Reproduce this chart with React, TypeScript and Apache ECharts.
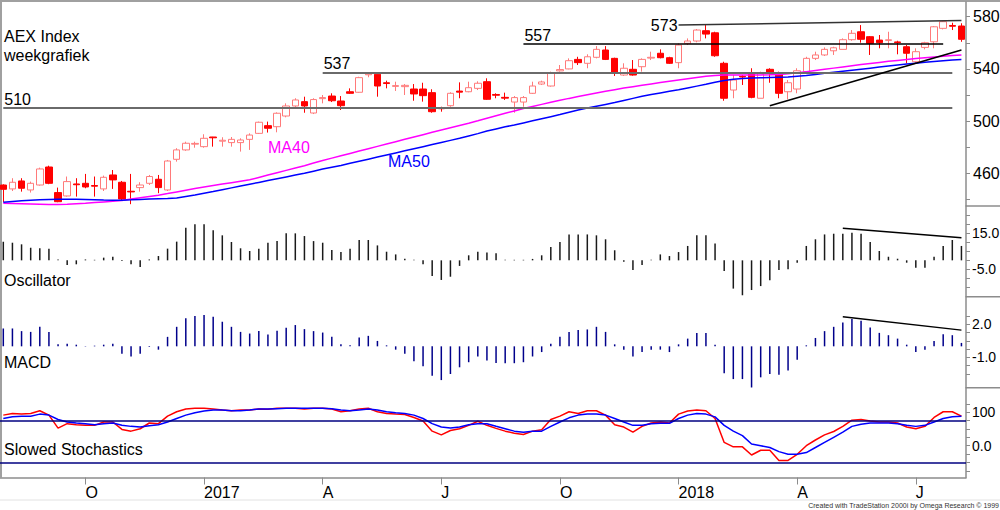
import React, { useEffect, useRef } from "react";
import * as echarts from "echarts";

// ---- weekly AEX candles (Aug 2016 .. Aug 2018) ----
const opens = [
  451.0, 448.0, 454.1, 447.2, 451.0, 464.8, 445.2, 442.6, 451.8, 452.3,
  450.6, 448.0, 458.7, 453.1, 446.2, 449.0, 452.3, 455.4, 447.2, 470.7,
  477.9, 482.3, 480.4, 487.8, 484.6, 483.5, 483.5, 486.0, 490.6, 496.5,
  495.7, 503.9, 511.6, 514.9, 506.2, 517.2, 519.2, 515.4, 522.5, 522.1,
  535.5, 535.9, 529.4, 526.6, 526.4, 524.6, 524.6, 521.8, 510.2, 511.8,
  523.0, 522.5, 525.1, 530.2, 520.4, 518.2, 514.6, 514.6, 521.3, 528.4,
  526.9, 538.5, 540.0, 547.3, 544.3, 548.9, 554.5, 548.1, 535.3, 539.7,
  541.7, 548.3, 552.0, 548.6, 544.8, 559.6, 561.4, 569.3, 567.7, 544.3,
  523.8, 534.3, 537.1, 517.5, 539.7, 537.1, 522.5, 524.6, 537.9, 548.1,
  550.7, 553.9, 555.0, 562.4, 568.5, 564.7, 562.1, 561.9, 560.7, 557.0,
  545.5, 556.5, 560.8, 571.1, 573.3, 572.9,
];
const closes = [
  447.7, 453.1, 448.5, 452.3, 463.3, 452.3, 438.2, 453.6, 451.2, 449.5,
  450.1, 456.9, 454.9, 440.3, 445.7, 451.0, 457.5, 449.0, 469.4, 477.9,
  483.0, 482.9, 486.8, 487.2, 485.3, 486.0, 485.5, 489.3, 499.1, 494.5,
  506.0, 511.6, 516.2, 511.6, 516.5, 518.0, 515.6, 511.8, 521.3, 533.3,
  536.2, 526.9, 528.8, 527.2, 527.4, 520.8, 519.5, 507.2, 509.5, 521.3,
  522.2, 525.6, 529.0, 516.7, 519.8, 517.6, 518.0, 518.0, 526.9, 530.0,
  537.1, 539.5, 546.3, 544.8, 549.3, 555.0, 547.3, 536.6, 540.5, 535.3,
  547.3, 548.9, 548.6, 544.3, 558.3, 561.4, 569.8, 566.7, 550.1, 517.5,
  531.5, 533.8, 518.2, 537.1, 537.1, 521.3, 529.4, 538.6, 548.1, 550.7,
  555.0, 556.2, 562.4, 567.3, 562.7, 559.6, 560.1, 562.3, 560.2, 552.0,
  553.2, 560.1, 572.3, 576.2, 572.7, 562.7,
];
const lows = [
  438.0, 446.4, 445.9, 445.2, 450.5, 451.6, 437.8, 442.1, 442.1, 448.5,
  442.1, 446.4, 448.0, 438.8, 436.3, 445.9, 451.0, 444.7, 446.4, 468.9,
  477.2, 479.6, 479.6, 480.4, 480.4, 480.4, 476.6, 477.9, 490.1, 491.2,
  491.4, 502.9, 510.6, 506.4, 505.4, 513.6, 514.6, 508.5, 520.8, 521.8,
  533.6, 518.7, 525.1, 523.1, 520.0, 515.6, 514.9, 506.4, 507.2, 511.0,
  517.5, 522.1, 523.8, 516.2, 517.5, 516.2, 506.4, 511.0, 520.8, 527.7,
  526.4, 537.9, 539.7, 543.0, 540.5, 548.1, 546.8, 534.6, 534.6, 534.8,
  537.9, 546.8, 548.1, 543.8, 540.5, 558.3, 560.4, 563.4, 549.3, 515.6,
  517.5, 527.7, 517.5, 517.5, 529.4, 517.5, 516.7, 521.3, 537.1, 546.8,
  549.9, 550.7, 555.0, 561.6, 560.1, 550.7, 555.8, 555.8, 551.2, 544.3,
  544.3, 555.0, 555.8, 570.3, 569.8, 560.8,
];
const highs = [
  451.5, 456.2, 456.2, 453.6, 464.3, 465.8, 449.0, 457.5, 456.2, 459.5,
  457.5, 458.2, 462.5, 454.1, 459.5, 453.1, 458.7, 458.7, 470.2, 479.2,
  484.2, 484.2, 489.9, 487.9, 487.6, 487.8, 486.8, 490.6, 499.6, 499.6,
  506.7, 513.6, 517.5, 518.7, 517.5, 520.0, 521.3, 519.2, 525.1, 534.0,
  537.4, 536.6, 531.0, 530.2, 528.4, 528.4, 529.4, 524.4, 511.0, 522.1,
  529.7, 530.2, 530.5, 532.8, 521.3, 521.8, 519.2, 519.2, 530.2, 531.0,
  537.9, 543.0, 548.1, 549.3, 551.2, 557.5, 557.5, 548.6, 544.3, 546.8,
  548.1, 553.2, 555.0, 549.3, 559.6, 563.4, 570.6, 573.6, 568.5, 545.5,
  535.3, 535.3, 540.5, 537.9, 540.5, 537.9, 531.5, 540.5, 549.3, 553.2,
  556.5, 557.0, 563.4, 569.8, 573.6, 565.2, 566.0, 568.5, 561.6, 558.3,
  555.8, 560.8, 572.9, 576.9, 575.4, 575.0,
];

// ---- moving averages ----
const ma40 = [
  437.0, 436.8, 436.6, 436.4, 436.2, 436.0, 436.0, 436.2, 436.6, 437.0,
  437.5, 438.0, 438.5, 439.2, 440.2, 441.2, 442.2, 443.2, 444.4, 445.7,
  447.0, 448.3, 449.5, 450.6, 451.7, 452.8, 453.9, 455.0, 456.8, 458.6,
  460.4, 462.2, 464.0, 465.8, 467.8, 469.8, 471.6, 473.4, 475.2, 477.0,
  478.8, 480.6, 482.4, 484.2, 486.0, 487.8, 489.6, 491.4, 493.2, 494.9,
  496.6, 498.3, 500.2, 502.2, 504.1, 506.0, 507.8, 509.6, 511.2, 512.8,
  514.4, 515.9, 517.4, 518.8, 520.2, 521.6, 522.9, 524.1, 525.3, 526.4,
  527.5, 528.5, 529.5, 530.5, 531.5, 532.5, 533.4, 534.3, 535.0, 535.3,
  535.4, 535.4, 535.4, 535.4, 535.5, 535.8, 536.3, 537.0, 537.9, 538.8,
  539.7, 540.6, 541.5, 542.4, 543.3, 544.2, 545.0, 545.8, 546.5, 547.2,
  547.9, 548.5, 549.1, 549.7, 550.2, 550.7,
];
const ma50 = [
  437.8, 438.4, 439.0, 439.4, 439.7, 439.9, 440.0, 440.0, 440.0, 439.9,
  439.7, 439.5, 439.4, 439.4, 439.6, 439.9, 440.2, 440.4, 440.6, 441.0,
  442.2, 443.4, 444.7, 446.0, 447.4, 448.8, 450.2, 451.6, 453.0, 454.4,
  455.8, 457.2, 458.6, 460.0, 461.6, 463.2, 464.6, 466.0, 467.6, 469.2,
  470.8, 472.4, 474.0, 475.6, 477.2, 478.8, 480.4, 482.0, 483.6, 485.2,
  486.8, 488.6, 490.4, 492.4, 494.0, 495.6, 497.0, 498.6, 500.2, 501.8,
  503.4, 505.0, 506.8, 508.5, 510.0, 511.4, 512.8, 514.2, 515.8, 517.4,
  519.0, 520.4, 521.6, 522.8, 524.0, 525.4, 526.8, 528.2, 529.8, 531.2,
  532.0, 532.6, 533.0, 533.2, 533.4, 533.6, 533.8, 534.4, 535.0, 535.8,
  536.6, 537.4, 538.2, 539.0, 539.8, 540.6, 541.4, 542.2, 543.0, 543.7,
  544.4, 545.1, 545.7, 546.3, 546.8, 547.3,
];

// ---- indicators ----
const oscillator = [
  10.4, 9.8, 8.9, 7.0, 6.7, 6.5, 0.5, -2.6, -2.2, 0.5,
  0.3, 1.5, 2.0, -0.3, -2.2, -3.7, 0.5, 2.4, 6.5, 10.4,
  18.1, 20.0, 20.0, 16.7, 13.9, 10.2, 6.7, 5.2, 6.5, 9.8,
  10.7, 15.0, 15.0, 13.5, 10.7, 9.8, 5.7, 4.6, 6.5, 11.3,
  11.3, 8.3, 4.8, 3.3, 0.9, 0.3, -2.2, -8.7, -10.9, -9.1,
  -3.1, 2.8, 4.8, 4.3, 4.0, 0.3, 0.3, 0.3, 0.8, 2.8,
  7.4, 10.2, 14.4, 14.4, 14.4, 13.9, 11.7, 5.6, -0.8, -5.4,
  -2.6, 0.3, 3.3, 2.4, 4.6, 8.0, 13.9, 13.9, 9.4, -5.9,
  -15.7, -19.4, -16.5, -14.3, -11.1, -5.4, -5.0, -1.3, 8.0, 11.7,
  14.4, 14.8, 14.8, 15.4, 14.8, 10.2, 5.2, 2.0, 0.9, -1.3,
  -4.1, -4.1, 2.0, 8.0, 11.3, 8.0,
];
const macd = [
  1.62, 1.62, 1.38, 1.31, 1.77, 1.31, 0.18, 0.24, 0.15, 0.03,
  0.06, 0.15, 0.24, -0.67, -0.92, -0.67, -0.06, -0.3, 0.86, 1.77,
  2.54, 2.75, 2.84, 2.69, 2.23, 1.77, 1.31, 1.16, 1.38, 1.07,
  1.41, 1.68, 1.93, 1.56, 1.38, 1.25, 0.86, 0.18, 0.09, 0.8,
  0.95, 0.49, 0.09, -0.3, -0.67, -1.35, -1.8, -2.66, -3.06, -2.51,
  -1.9, -1.44, -0.92, -1.28, -1.5, -1.53, -1.53, -1.44, -0.92, -0.52,
  0.24, 0.86, 1.31, 1.47, 1.53, 1.77, 1.31, 0.18, -0.3, -0.92,
  -0.52, -0.3, -0.3, -0.52, 0.18, 0.7, 1.22, 1.22, 0.15, -2.45,
  -2.97, -2.97, -3.73, -2.81, -2.51, -2.57, -2.2, -1.22, 0.09, 0.76,
  1.38, 1.77, 2.17, 2.48, 2.32, 1.71, 1.22, 1.01, 0.7, 0.15,
  -0.52, -0.3, 0.49, 1.1, 1.01, 0.31,
];
const stochK = [
  91.6, 96.7, 95.0, 96.7, 104.8, 91.6, 52.7, 66.0, 63.0, 61.0,
  61.0, 71.0, 71.0, 48.7, 43.6, 50.8, 68.0, 66.0, 88.5, 101.7,
  110.0, 112.0, 112.0, 110.0, 107.0, 104.8, 107.0, 107.0, 110.0, 109.0,
  112.0, 112.0, 112.0, 110.0, 112.0, 112.0, 110.0, 101.7, 104.8, 110.0,
  112.0, 101.7, 96.7, 94.6, 93.6, 84.5, 74.2, 43.6, 32.5, 45.6,
  50.8, 61.0, 73.2, 61.0, 52.0, 43.6, 37.5, 33.4, 43.6, 47.7,
  78.4, 88.5, 101.7, 96.7, 104.8, 104.8, 91.6, 63.0, 55.8, 40.4,
  57.9, 68.0, 71.0, 68.0, 94.6, 103.8, 107.0, 104.8, 81.5, 9.9,
  -3.4, -3.4, -27.9, -13.5, -13.5, -44.1, -44.1, -25.7, 0.0, 17.1,
  32.5, 42.6, 57.9, 76.3, 78.4, 74.2, 71.0, 71.0, 68.0, 56.0,
  50.8, 58.0, 84.5, 101.7, 101.7, 88.5,
];
const stochD = [
  81.5, 86.4, 88.0, 88.5, 94.6, 91.6, 78.4, 71.0, 68.0, 66.0,
  63.0, 66.0, 68.0, 61.0, 57.9, 55.8, 60.0, 63.0, 71.0, 81.5,
  91.6, 98.6, 103.8, 107.0, 107.0, 104.8, 104.8, 107.0, 110.0, 110.0,
  111.0, 112.0, 112.0, 112.0, 112.0, 112.0, 111.0, 107.0, 104.8, 107.0,
  110.0, 107.0, 101.7, 98.6, 96.7, 91.6, 81.5, 66.0, 55.8, 52.7,
  55.8, 63.0, 66.0, 66.0, 58.0, 50.8, 43.6, 40.4, 43.6, 43.6,
  57.9, 71.0, 83.5, 91.6, 94.6, 94.6, 91.6, 81.5, 71.0, 61.0,
  61.0, 66.0, 67.0, 67.0, 81.5, 91.6, 96.7, 94.6, 86.4, 61.0,
  43.6, 30.3, 4.9, 0.0, -5.4, -17.7, -25.7, -25.7, -20.6, -5.4,
  9.9, 25.2, 40.4, 57.9, 64.0, 68.0, 68.0, 68.0, 66.0, 61.0,
  57.9, 61.0, 71.0, 81.5, 86.4, 88.5,
];

// ---- annotations (index, value) ----
const priceLevels = [
  { label: "510", value: 510, from: 0, to: 104 },
  { label: "537", value: 537, from: 35, to: 104 },
  { label: "557", value: 559, from: 57, to: 103 },
];
const resistanceTrend = { label: "573", from: [74, 573.6], to: [105, 577.1] };
const supportTrend = [[84, 511.8], [105, 554.5]];
const oscTrend = [[92, 17.8], [105, 12.6]];
const macdTrend = [[92, 2.69], [105, 1.47]];
const stochLevels = [75, -50];

// ---- axis ticks / labels ----
const priceTicks = [440, 460, 480, 500, 520, 540, 560, 580];
const priceLabels = [460, 500, 540, 580];
const oscTicks = [-15, -10, -5, 0, 5, 10, 15, 20, 25];
const oscLabels = [15, -5];
const macdTicks = [-2.5, -1.75, -1, -0.25, 0.5, 1.25, 2, 2.75];
const macdLabels = [2, -1];
const stochTicks = [-75, -50, -25, 0, 25, 50, 75, 100, 125];
const stochLabels = [100, 0];
const quarterLetters: Record<number, string> = { 3: "A", 6: "J", 9: "O" };

const WEEK_MS = 7 * 24 * 3600 * 1000;
const firstWeek = Date.UTC(2016, 7, 1);
const weeks = opens.map((_, i) =>
  new Date(firstWeek + i * WEEK_MS).toISOString().slice(0, 10)
);
const monthOf = (s: string) => Number(s.slice(5, 7)) - 1;
const isQuarterStart = (i: number) =>
  i > 0 &&
  monthOf(weeks[i]) % 3 === 0 &&
  monthOf(weeks[i]) !== monthOf(weeks[i - 1]);
const quarterLabel = (s: string) => {
  const m = monthOf(s);
  return m === 0 ? s.slice(0, 4) : quarterLetters[m] || "";
};

const FONT = '"Liberation Sans", Arial, sans-serif';
const AXIS_GRAY = "#8c8c8c";
const oneDecimal = (v: number) => (Math.abs(v) >= 100 ? String(v) : v.toFixed(1));

function yAxis(gridIndex: number, min: number, max: number, ticks: number[], labels: number[], fmt: (v: number) => string, fontSize: number, margin: number) {
  return {
    type: "value",
    gridIndex,
    position: "right",
    min,
    max,
    splitLine: { show: false },
    axisLine: { show: true, lineStyle: { color: AXIS_GRAY, width: 1.5 } },
    axisTick: { show: true, length: 4, customValues: ticks, lineStyle: { color: AXIS_GRAY, width: 1 } },
    axisLabel: {
      customValues: labels,
      formatter: fmt,
      margin,
      color: "#000",
      fontSize,
      fontFamily: FONT,
    },
  };
}

function xAxis(gridIndex: number) {
  const bottom = gridIndex === 3;
  return {
    type: "category",
    gridIndex,
    data: weeks,
    boundaryGap: true,
    splitLine: { show: false },
    axisLine: { show: bottom, onZero: false, lineStyle: { color: AXIS_GRAY, width: 1.5 } },
    axisTick: bottom
      ? { show: true, alignWithLabel: true, interval: (i: number) => isQuarterStart(i), length: 7, lineStyle: { color: AXIS_GRAY, width: 1 } }
      : { show: false },
    axisLabel: bottom
      ? {
          show: true,
          interval: (i: number) => isQuarterStart(i),
          formatter: (v: string) => quarterLabel(v),
          align: "left",
          margin: 7,
          fontSize: 16,
          color: "#000",
          fontFamily: FONT,
        }
      : { show: false },
  };
}

const trendLine = (pts: number[][], color: string, width: number) => [
  { coord: pts[0], lineStyle: { color, width, type: "solid" } },
  { coord: pts[1] },
];

function frameLine(x1: number, y1: number, x2: number, y2: number, stroke: string, lineWidth: number) {
  return { type: "line", silent: true, shape: { x1, y1, x2, y2 }, style: { stroke, lineWidth } };
}
function label(text: string, x: number, y: number, fill = "#000", fontSize = 16, align = "left") {
  return {
    type: "text",
    silent: true,
    style: { text, x, y, fill, fontSize, fontFamily: FONT, align, verticalAlign: "middle" },
  };
}

export default function App() {
  const ref = useRef<HTMLDivElement>(null);

  useEffect(() => {
    document.body.style.margin = "0";
    if (!ref.current) return;
    const chart = echarts.init(ref.current, undefined, { renderer: "svg" });
    const gl = -1.26;
    const gw = 967.26;
    const gridBase = { left: gl, width: gw, outerBoundsMode: "none", containLabel: false };

    const option = {
      animation: false,
      backgroundColor: "#ffffff",
      textStyle: { fontFamily: FONT },
      grid: [
        { ...gridBase, top: 2, height: 204 },
        { ...gridBase, top: 206, height: 90.7 },
        { ...gridBase, top: 296.7, height: 91 },
        { ...gridBase, top: 387.7, height: 89.8 },
      ],
      xAxis: [xAxis(0), xAxis(1), xAxis(2), xAxis(3)],
      yAxis: [
        yAxis(0, 434.9, 591.3, priceTicks, priceLabels, (v: number) => String(v), 16, 7),
        yAxis(1, -20.2, 30.2, oscTicks, oscLabels, oneDecimal, 14, 6),
        yAxis(2, -3.75, 4.5, macdTicks, macdLabels, oneDecimal, 14, 6),
        yAxis(3, -95.2, 173.7, stochTicks, stochLabels, oneDecimal, 14, 6),
      ],
      series: [
        {
          type: "candlestick",
          xAxisIndex: 0,
          yAxisIndex: 0,
          barWidth: 7,
          silent: true,
          data: opens.map((o, i) => [o, closes[i], lows[i], highs[i]]),
          itemStyle: {
            color: "#ffffff",
            color0: "#ff0000",
            borderColor: "#ff7a7a",
            borderColor0: "#ff0000",
            borderWidth: 1,
          },
          markLine: {
            silent: true,
            symbol: ["none", "none"],
            lineStyle: { type: "solid" },
            label: { show: false },
            data: [
              ...priceLevels.map((l, k) => [
                {
                  coord: [l.from, l.value],
                  lineStyle: { color: k < 2 ? "#6a6a6a" : "#000", width: k < 2 ? 2 : 1.5, type: "solid" },
                  label: {
                    show: true,
                    position: "insideStartTop",
                    formatter: l.label,
                    distance: [1, 1],
                    color: "#000",
                    fontSize: 16,
                    fontFamily: FONT,
                  },
                },
                { coord: [l.to, l.value] },
              ]),
              [
                {
                  coord: resistanceTrend.from,
                  lineStyle: { color: "#333", width: 1.5, type: "solid" },
                  label: {
                    show: true,
                    position: "start",
                    formatter: resistanceTrend.label,
                    distance: [1, 0],
                    padding: [9, 0, 0, 0],
                    color: "#000",
                    fontSize: 16,
                    fontFamily: FONT,
                  },
                },
                { coord: resistanceTrend.to },
              ],
              trendLine(supportTrend, "#000", 1.5),
            ],
          },
        },
        {
          type: "line",
          name: "MA40",
          xAxisIndex: 0,
          yAxisIndex: 0,
          data: ma40,
          symbol: "none",
          silent: true,
          lineStyle: { color: "#ff00ff", width: 1.5 },
        },
        {
          type: "line",
          name: "MA50",
          xAxisIndex: 0,
          yAxisIndex: 0,
          data: ma50,
          symbol: "none",
          silent: true,
          lineStyle: { color: "#0000ff", width: 1.5 },
        },
        {
          type: "bar",
          name: "Oscillator",
          xAxisIndex: 1,
          yAxisIndex: 1,
          data: oscillator,
          barWidth: 1.5,
          silent: true,
          itemStyle: { color: "#1a1a1a" },
          markLine: {
            silent: true,
            symbol: ["none", "none"],
            label: { show: false },
            lineStyle: { type: "solid" },
            data: [trendLine(oscTrend, "#000", 1.5)],
          },
        },
        {
          type: "bar",
          name: "MACD",
          xAxisIndex: 2,
          yAxisIndex: 2,
          data: macd,
          barWidth: 1.5,
          silent: true,
          itemStyle: { color: "#00008b" },
          markLine: {
            silent: true,
            symbol: ["none", "none"],
            label: { show: false },
            lineStyle: { type: "solid" },
            data: [trendLine(macdTrend, "#000", 1.5)],
          },
        },
        {
          type: "line",
          name: "SlowK",
          xAxisIndex: 3,
          yAxisIndex: 3,
          data: stochK,
          symbol: "none",
          silent: true,
          lineStyle: { color: "#ff0000", width: 1.5 },
          markLine: {
            silent: true,
            symbol: ["none", "none"],
            label: { show: false },
            lineStyle: { type: "solid", color: "#000080", width: 1.5 },
            data: stochLevels.map((v) => ({ yAxis: v })),
          },
        },
        {
          type: "line",
          name: "SlowD",
          xAxisIndex: 3,
          yAxisIndex: 3,
          data: stochD,
          symbol: "none",
          silent: true,
          lineStyle: { color: "#0000ff", width: 1.5 },
        },
      ],
      graphic: [
        frameLine(0, 1, 1000, 1, "#a0a0a0", 2),
        frameLine(1, 0, 1, 477.5, "#a0a0a0", 2),
        frameLine(966, 206, 1000, 206, AXIS_GRAY, 1.5),
        frameLine(966, 296.7, 1000, 296.7, AXIS_GRAY, 1.5),
        frameLine(966, 387.7, 1000, 387.7, AXIS_GRAY, 1.5),
        frameLine(0, 500, 1000, 500, "#e2e2e2", 1),
        label("AEX Index", 4, 36),
        label("weekgrafiek", 4, 55),
        label("MA40", 268, 147.7, "#ff00ff"),
        label("MA50", 388, 161.7, "#0000ff"),
        label("Oscillator", 4, 280),
        label("MACD", 4, 362.7),
        label("Slowed Stochastics", 4, 449.5),
        label("Created with TradeStation 2000i by Omega Research \u00a9 1999", 999, 505, "#333", 7, "right"),
      ],
    };

    chart.setOption(option as any);
    return () => chart.dispose();
  }, []);

  return <div ref={ref} style={{ width: 1000, height: 510 }} />;
}
